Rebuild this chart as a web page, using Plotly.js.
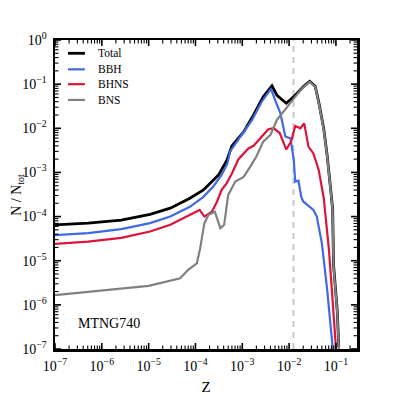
<!DOCTYPE html>
<html>
<head>
<meta charset="utf-8">
<script src="https://cdn.plot.ly/plotly-3.0.1.min.js"></script>
<style>
  html, body { margin: 0; padding: 0; background: #fff; }
  #chart { width: 397px; height: 397px; }
</style>
</head>
<body>
<div id="chart"></div>
<script>
// metallicity grid and normalised merger counts
const zTotal = [1e-7, 5.1e-7, 2.6e-6, 1.07e-5, 2.9e-5, 7.6e-5, 1.48e-4, 2.4e-4, 3.1e-4, 4.7e-4, 6.0e-4, 1.07e-3,
  1.74e-3, 2.8e-3, 4.3e-3, 5.5e-3, 8.7e-3, 1.35e-2, 2.0e-2, 2.75e-2, 3.6e-2, 4.3e-2, 5.5e-2, 6.5e-2, 7.6e-2,
  8.5e-2, 8.9e-2, 1.07e-1, 1.15e-1];
const nTotal = [6.5e-5, 7.1e-5, 8.3e-5, 1.12e-4, 1.55e-4, 2.6e-4, 4.0e-4, 6.8e-4, 8.7e-4, 1.9e-3, 4.0e-3, 8.3e-3,
  2.0e-2, 5.2e-2, 9.2e-2, 5.6e-2, 3.7e-2, 5.6e-2, 8.7e-2, 1.16e-1, 9.0e-2, 3.9e-2, 9.6e-3, 2.4e-3, 5.2e-4,
  1.5e-4, 8e-6, 7e-7, 1.1e-7];

const zBBH = [1e-7, 5.1e-7, 2.6e-6, 1.07e-5, 2.9e-5, 7.6e-5, 1.48e-4, 2.4e-4, 3.6e-4, 4.8e-4, 5.5e-4, 9.8e-4,
  1.62e-3, 2.6e-3, 4.1e-3, 5.0e-3, 6.5e-3, 8.3e-3, 1.07e-2, 1.26e-2, 1.35e-2, 1.58e-2, 1.82e-2, 2.0e-2, 2.5e-2,
  3.3e-2, 3.9e-2, 5.0e-2, 6.5e-2, 7.6e-2, 8.5e-2, 8.9e-2];
const nBBH = [3.8e-5, 4.2e-5, 5.2e-5, 7.1e-5, 1.0e-4, 1.66e-4, 2.8e-4, 4.8e-4, 8.7e-4, 1.58e-3, 3.0e-3, 7.1e-3,
  1.55e-2, 4.0e-2, 7.8e-2, 4.4e-2, 2.2e-2, 6.5e-3, 5.9e-3, 1.9e-3, 6.2e-4, 6.5e-4, 2.8e-4, 2.2e-4, 1.78e-4,
  1.41e-4, 1.0e-4, 2.5e-5, 2.2e-6, 4.6e-7, 1.1e-7, 5e-8];

const zBHNS = [1e-7, 5.1e-7, 2.6e-6, 1.07e-5, 2.9e-5, 7.6e-5, 1.23e-4, 1.55e-4, 2.24e-4, 2.9e-4, 3.6e-4, 4.7e-4,
  6.0e-4, 8.3e-4, 1.35e-3, 1.74e-3, 2.6e-3, 3.6e-3, 4.7e-3, 6.3e-3, 8.7e-3, 1.1e-2, 1.35e-2, 1.74e-2, 2.1e-2,
  2.6e-2, 3.3e-2, 4.3e-2, 5.5e-2, 7.1e-2, 8.3e-2, 9.8e-2, 1.05e-1];
const nBHNS = [2.4e-5, 2.7e-5, 3.3e-5, 4.6e-5, 6.5e-5, 1.1e-4, 1.41e-4, 1.0e-4, 1.29e-4, 2.2e-4, 4.0e-4, 5.8e-4,
  9.5e-4, 2.0e-3, 3.5e-3, 4.0e-3, 6.5e-3, 9.5e-3, 1.0e-2, 7.8e-3, 3.3e-3, 5.0e-3, 1.12e-2, 1.0e-2, 1.29e-2,
  3.8e-3, 2.7e-3, 1.12e-3, 2.6e-4, 1.74e-5, 1.8e-6, 1.6e-7, 5e-8];

const zBNS = [1e-7, 3.16e-7, 1e-6, 3.16e-6, 1e-5, 4.7e-5, 7.1e-5, 1.07e-4, 1.26e-4, 1.55e-4, 1.9e-4, 2.6e-4,
  3.4e-4, 4.1e-4, 5.0e-4, 7.1e-4, 1.07e-3, 1.48e-3, 2.0e-3, 2.8e-3, 4.0e-3, 5.5e-3, 7.6e-3, 1.26e-2, 1.9e-2,
  2.75e-2, 3.6e-2, 4.3e-2, 5.5e-2, 6.5e-2, 7.6e-2, 8.5e-2, 8.9e-2, 1.07e-1, 1.15e-1, 1.26e-1];
const nBNS = [1.66e-6, 1.86e-6, 2.1e-6, 2.35e-6, 2.7e-6, 4.0e-6, 6.3e-6, 8.7e-6, 1.9e-5, 7.1e-5, 1.1e-4, 1.29e-4,
  5.4e-5, 6.5e-5, 3.1e-4, 6.2e-4, 7.9e-4, 1.35e-3, 2.3e-3, 5.0e-3, 7.1e-3, 1.55e-2, 2.4e-2, 4.8e-2, 8.1e-2,
  1.12e-1, 8.7e-2, 3.7e-2, 9.1e-3, 2.3e-3, 4.8e-4, 1.4e-4, 7.2e-6, 6.5e-7, 1.1e-7, 1e-8];

const seriesNames = ['Total', 'BBH', 'BHNS', 'BNS'];
const seriesColors = ['#000000', '#4169e1', '#dc143c', '#808080'];
const seriesWidths = [2.8, 2.2, 2.2, 2.2];

const zMarker = 0.0124;   // dashed reference metallicity
const yTicks = [1e-7, 1e-6, 1e-5, 1e-4, 1e-3, 1e-2, 1e-1, 1];
const yTickText = ['10<sup>−7</sup>', '10<sup>−6</sup>', '10<sup>−5</sup>', '10<sup>−4</sup>',
  '10<sup>−3</sup>', '10<sup>−2</sup>', '10<sup>−1</sup>', '10<sup>0</sup>'];
const xTicks = [1e-7, 1e-6, 1e-5, 1e-4, 1e-3, 1e-2, 1e-1];
const xTickText = ['10<sup>−7</sup>', '10<sup>−6</sup>', '10<sup>−5</sup>', '10<sup>−4</sup>',
  '10<sup>−3</sup>', '10<sup>−2</sup>', '10<sup>−1</sup>'];

const serif = 'Liberation Serif, Times New Roman, serif';
const W = 397, H = 397;
const margin = { l: 55, r: 40, t: 40, b: 48 };
const xRange = [-7, -0.55], yRange = [-7, 0];
const xMax = Math.pow(10, xRange[1]);
const plotW = W - margin.l - margin.r, plotH = H - margin.t - margin.b;

let data = [
  { x: [zMarker, zMarker], y: [1e-7, 1], type: 'scatter', mode: 'lines', showlegend: false,
    line: { color: '#c8c8c8', width: 2, dash: '6px,5px' }, hoverinfo: 'skip' },
];
[[zTotal, nTotal], [zBBH, nBBH], [zBHNS, nBHNS], [zBNS, nBNS]].forEach((s, i) => {
  data.push({ x: s[0], y: s[1], name: seriesNames[i], type: 'scatter', mode: 'lines', showlegend: false,
    line: { color: seriesColors[i], width: seriesWidths[i] } });
});

// matplotlib style inward ticks on all four sides, placed in paper units
let shapes = [];
const fx = v => (Math.log10(v) - xRange[0]) / (xRange[1] - xRange[0]);
const fy = v => (Math.log10(v) - yRange[0]) / (yRange[1] - yRange[0]);
function addTick(v, len, w, isX) {
  if (isX) {
    let p = fx(v), d = len / plotH;
    shapes.push({ type: 'line', xref: 'paper', yref: 'paper', x0: p, x1: p, y0: 0, y1: d,
      line: { color: '#000', width: w } });
    shapes.push({ type: 'line', xref: 'paper', yref: 'paper', x0: p, x1: p, y0: 1, y1: 1 - d,
      line: { color: '#000', width: w } });
  } else {
    let p = fy(v), d = len / plotW;
    shapes.push({ type: 'line', xref: 'paper', yref: 'paper', y0: p, y1: p, x0: 0, x1: d,
      line: { color: '#000', width: w } });
    shapes.push({ type: 'line', xref: 'paper', yref: 'paper', y0: p, y1: p, x0: 1, x1: 1 - d,
      line: { color: '#000', width: w } });
  }
}
xTicks.forEach(d => {
  addTick(d, 6, 1.6, true);
  for (let m = 2; m <= 9; m++) if (m * d < xMax) addTick(m * d, 3.5, 1.1, true);
});
yTicks.forEach(d => {
  addTick(d, 6, 1.6, false);
  if (d < 1) for (let m = 2; m <= 9; m++) addTick(m * d, 3.5, 1.1, false);
});

// hand-placed legend rows (matplotlib-like compact spacing)
let legendX0 = 0.043, legendX1 = 0.099, legendTextX = 0.136;
let legendY = [0.957, 0.905, 0.857, 0.806];
let annotations = [];
seriesNames.forEach((name, i) => {
  shapes.push({ type: 'line', xref: 'paper', yref: 'paper', x0: legendX0, x1: legendX1,
    y0: legendY[i], y1: legendY[i], line: { color: seriesColors[i], width: seriesWidths[i] } });
  annotations.push({ xref: 'paper', yref: 'paper', x: legendTextX, y: legendY[i], xanchor: 'left',
    yanchor: 'middle', showarrow: false, text: name, font: { family: serif, size: 11.5, color: '#000' } });
});
annotations.push({
  xref: 'paper', yref: 'paper', x: 0.179, y: 0.081,
  xanchor: 'center', yanchor: 'middle', showarrow: false,
  text: 'MTNG740', font: { family: serif, size: 14, color: '#000' },
});
annotations.push({
  xref: 'paper', yref: 'paper', x: -0.125, y: 0.5, textangle: -90,
  xanchor: 'center', yanchor: 'middle', showarrow: false,
  text: 'N / N<sub>tot</sub>', font: { family: serif, size: 14, color: '#000' },
});

let axisCommon = {
  type: 'log',
  showgrid: false,
  zeroline: false,
  showline: true,
  linecolor: '#000',
  linewidth: 2.5,
  mirror: true,
  ticks: '',
  tickmode: 'array',
  tickfont: { family: serif, size: 14, color: '#000' },
};

let layout = {
  width: W,
  height: H,
  margin: margin,
  paper_bgcolor: '#fff',
  plot_bgcolor: '#fff',
  font: { family: serif, color: '#000' },
  showlegend: false,
  xaxis: Object.assign({}, axisCommon, {
    range: xRange,
    tickvals: xTicks,
    ticktext: xTickText,
    ticklabelstandoff: 3,
    title: { text: 'Z', font: { family: serif, size: 15 }, standoff: 8 },
  }),
  yaxis: Object.assign({}, axisCommon, {
    range: yRange,
    tickvals: yTicks,
    ticktext: yTickText,
    ticklabelstandoff: 3,
  }),
  shapes: shapes,
  annotations: annotations,
};

Plotly.newPlot('chart', data, layout, { staticPlot: true });
</script>
</body>
</html>
